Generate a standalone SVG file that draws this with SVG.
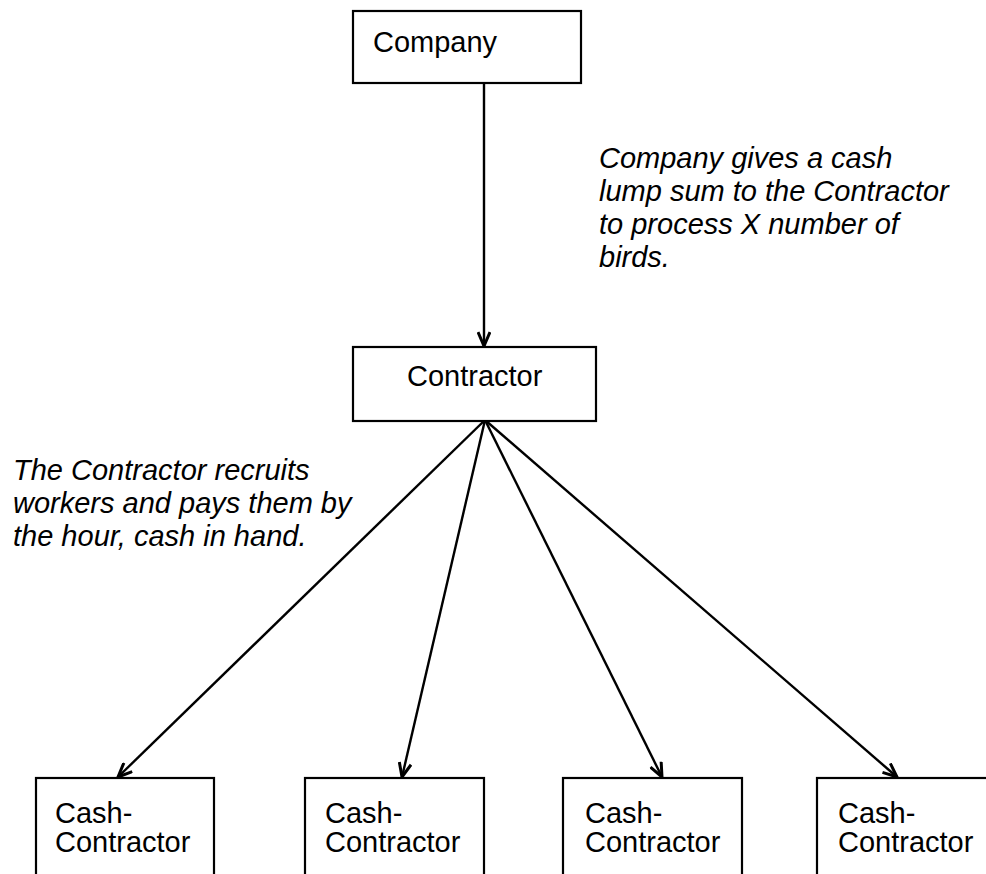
<svg xmlns="http://www.w3.org/2000/svg" width="986" height="874" viewBox="0 0 986 874">
<style>
.box{fill:#fff;stroke:#000;stroke-width:2.2}
.t{font-family:"Liberation Sans",Arial,sans-serif;font-size:29px;fill:#000}
.i{font-style:italic}
.c{stroke:#000;stroke-width:2.4;fill:none}
</style>
<defs>
<marker id="ah" viewBox="0 0 16 14" refX="15" refY="7" markerWidth="16" markerHeight="14" markerUnits="userSpaceOnUse" orient="auto">
<path d="M1,1 L15,7 L1,13" fill="none" stroke="#000" stroke-width="3"/>
</marker>
</defs>
<rect width="986" height="874" fill="#fff"/>
<g id="connectors">
<line class="c" x1="484" y1="83" x2="484" y2="346" marker-end="url(#ah)"/>
<line class="c" x1="485" y1="420" x2="118" y2="777" marker-end="url(#ah)"/>
<line class="c" x1="485" y1="420" x2="402" y2="777" marker-end="url(#ah)"/>
<line class="c" x1="485" y1="420" x2="662" y2="777" marker-end="url(#ah)"/>
<line class="c" x1="485" y1="420" x2="897" y2="777" marker-end="url(#ah)"/>
</g>
<g id="company">
<rect class="box" x="353" y="11" width="228" height="72"/>
<text class="t" x="373" y="52">Company</text>
</g>
<g id="contractor">
<rect class="box" x="353" y="347" width="243" height="74"/>
<text class="t" x="407" y="386">Contractor</text>
</g>
<g id="cash1">
<rect class="box" x="36" y="778" width="178" height="110"/>
<text class="t" x="55" y="823">Cash-<tspan x="55" dy="29">Contractor</tspan></text>
</g>
<g id="cash2">
<rect class="box" x="305" y="778" width="179" height="110"/>
<text class="t" x="325" y="823">Cash-<tspan x="325" dy="29">Contractor</tspan></text>
</g>
<g id="cash3">
<rect class="box" x="563" y="778" width="179" height="110"/>
<text class="t" x="585" y="823">Cash-<tspan x="585" dy="29">Contractor</tspan></text>
</g>
<g id="cash4">
<rect class="box" x="817" y="778" width="190" height="110"/>
<text class="t" x="838" y="823">Cash-<tspan x="838" dy="29">Contractor</tspan></text>
</g>
<g id="note-company">
<text class="t i" x="599" y="168">Company gives a cash<tspan x="599" dy="33">lump sum to the Contractor</tspan><tspan x="599" dy="33">to process X number of</tspan><tspan x="599" dy="33">birds.</tspan></text>
</g>
<g id="note-contractor">
<text class="t i" x="13" y="480">The Contractor recruits<tspan x="13" dy="33">workers and pays them by</tspan><tspan x="13" dy="33">the hour, cash in hand.</tspan></text>
</g>
</svg>
